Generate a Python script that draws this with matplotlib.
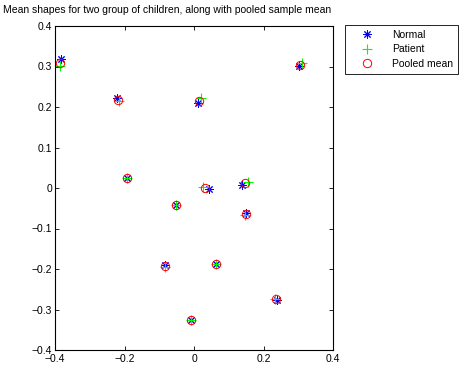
import matplotlib
matplotlib.use("Agg")
import matplotlib.pyplot as plt
from matplotlib.ticker import FuncFormatter

# mean shape landmarks (x, y) for each group
normal_x = [-0.384, -0.223, -0.193, -0.053, -0.083, -0.010, 0.062, 0.151, 0.238, 0.043, 0.139, 0.011, 0.303]
normal_y = [0.319, 0.223, 0.025, -0.042, -0.189, -0.327, -0.187, -0.062, -0.276, -0.003, 0.007, 0.210, 0.302]
patient_x = [-0.386, -0.216, -0.193, -0.053, -0.083, -0.010, 0.062, 0.147, 0.234, 0.026, 0.156, 0.019, 0.310]
patient_y = [0.302, 0.216, 0.025, -0.042, -0.196, -0.327, -0.187, -0.066, -0.273, 0.003, 0.016, 0.222, 0.308]
pooled_x = [-0.385, -0.218, -0.193, -0.053, -0.083, -0.010, 0.062, 0.149, 0.236, 0.033, 0.148, 0.015, 0.306]
pooled_y = [0.309, 0.217, 0.025, -0.042, -0.192, -0.327, -0.187, -0.064, -0.275, 0.000, 0.012, 0.216, 0.304]

plt.rcParams['font.family'] = ['Liberation Sans', 'DejaVu Sans']
plt.rcParams['font.size'] = 7.5

fig = plt.figure(figsize=(4.62, 3.66), dpi=100)
ax = fig.add_axes([55/462, 16/366, 278/462, 324/366])

ax.plot(normal_x, normal_y, linestyle='none', marker=(8, 2, 0), color='blue',
        markersize=6, markeredgewidth=0.7, label='Normal')
ax.plot(patient_x, patient_y, linestyle='none', marker='+', color=(0, 1, 0),
        markersize=6.5, markeredgewidth=0.8, label='Patient')
ax.plot(pooled_x, pooled_y, linestyle='none', marker='o', markerfacecolor='none',
        markeredgecolor='red', markersize=6, markeredgewidth=0.7, label='Pooled mean')

fmt = FuncFormatter(lambda v, p: ('%g' % round(v, 2)).replace('-', '\u2212'))
ax.set_xlim(-0.4, 0.4)
ax.set_ylim(-0.4, 0.4)
ax.set_xticks([-0.4, -0.2, 0, 0.2, 0.4])
ax.set_yticks([-0.4, -0.3, -0.2, -0.1, 0, 0.1, 0.2, 0.3, 0.4])
ax.xaxis.set_major_formatter(fmt)
ax.yaxis.set_major_formatter(fmt)
ax.tick_params(direction='in', top=True, right=True, length=3, width=0.6, labelsize=7.5)
ax.tick_params(axis='x', pad=3)
ax.tick_params(axis='y', pad=2)
for s in ax.spines.values():
    s.set_linewidth(0.8)

fig.text(3/462, 1 - 10/366, 'Mean shapes for two group of children, along with pooled sample mean',
         ha='left', va='center', fontsize=7.5)

leg = fig.legend(loc='upper left', bbox_to_anchor=(345/462, 1 - 25/366), borderaxespad=0,
                 fancybox=False, edgecolor='black', framealpha=1, fontsize=7.5,
                 handletextpad=0.8, borderpad=0.45, labelspacing=0.45, handlelength=3.3)
leg.get_frame().set_linewidth(0.6)

fig.savefig('out.png', dpi=100)
